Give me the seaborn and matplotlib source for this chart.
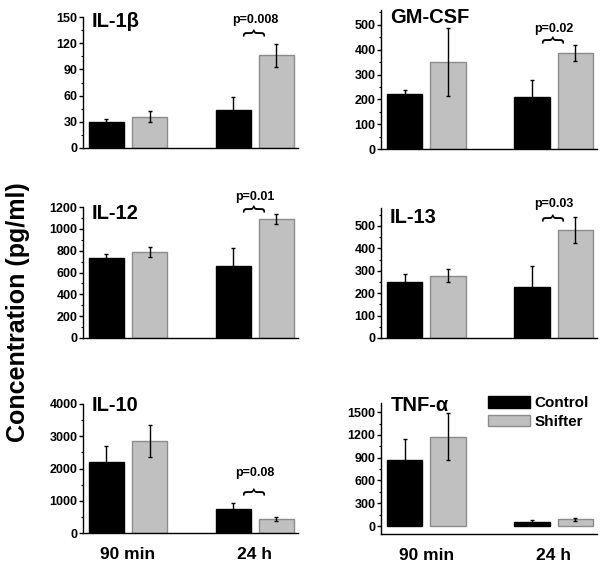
import matplotlib
matplotlib.use("Agg")
import matplotlib.pyplot as plt
from matplotlib.patches import Patch
from matplotlib.ticker import MultipleLocator
import pandas as pd
import seaborn as sns

# values (pg/ml)
cytokines = ["IL-1β", "GM-CSF", "IL-12", "IL-13", "IL-10", "TNF-α"]
times = ["90 min", "24 h"]
groups = ["Control", "Shifter"]

control_90 = [30, 220, 729, 251, 2216, 875]
shifter_90 = [36, 351, 791, 278, 2845, 1176]
control_24 = [43, 210, 655, 226, 732, 57]
shifter_24 = [106, 386, 1089, 481, 433, 87]

control_90_err = [3, 17, 37, 33, 485, 266]
shifter_90_err = [6, 136, 47, 29, 500, 310]
control_24_err = [15, 68, 167, 96, 185, 22]
shifter_24_err = [13, 31, 49, 58, 70, 22]

p_labels = ["p=0.008", "p=0.02", "p=0.01", "p=0.03", "p=0.08", None]

# layout / axis settings per panel
panel_px = [(83, 17, 298, 148), (381, 10, 597, 149),
            (83, 207, 298, 338), (381, 208, 597, 338),
            (83, 404, 298, 533), (381, 403, 597, 534)]
ylims = [(0, 150), (0, 560), (0, 1200), (0, 580), (0, 4000), (-105, 1620)]
ysteps = [30, 100, 200, 100, 1000, 300]
ytop = [150, 500, 1200, 500, 4000, 1500]
title_px = [(92, 27), (390, 23), (92, 219), (390, 223), (92, 411), (391, 411)]
p_text_y = [147, 484, 1290, 598, 1860, None]
brace_y = [133, 443, 1190, 540, 1300, None]

W, H = 604, 571
sns.set_style("ticks")
plt.rcParams["font.family"] = ["Liberation Sans", "DejaVu Sans"]
plt.rcParams["font.weight"] = "bold"
plt.rcParams["text.color"] = "black"
plt.rcParams["xtick.color"] = "black"
plt.rcParams["ytick.color"] = "black"
plt.rcParams["axes.labelcolor"] = "black"

colors = {"Control": "black", "Shifter": "#c0c0c0"}
edges = {"Control": "black", "Shifter": "#8c8c8c"}

fig = plt.figure(figsize=(W / 100, H / 100), dpi=100)

for i, name in enumerate(cytokines):
    l, t, r, b = panel_px[i]
    ax = fig.add_axes([l / W, 1 - b / H, (r - l) / W, (b - t) / H])

    df = pd.DataFrame({
        "time": times * 2,
        "group": ["Control", "Control", "Shifter", "Shifter"],
        "value": [control_90[i], control_24[i], shifter_90[i], shifter_24[i]],
        "err": [control_90_err[i], control_24_err[i], shifter_90_err[i], shifter_24_err[i]],
    })

    sns.barplot(data=df, x="time", y="value", hue="group", hue_order=groups,
                order=times, palette=colors, width=0.68, gap=0.18,
                legend=False, ax=ax, linewidth=1)

    for cont, g in zip(ax.containers, groups):
        sub = df[df["group"] == g].set_index("time").loc[times]
        xs = []
        for bar in cont:
            bar.set_edgecolor(edges[g])
            xs.append(bar.get_x() + bar.get_width() / 2)
        ax.errorbar(xs, sub["value"], yerr=sub["err"], fmt="none",
                    ecolor="black", elinewidth=1, capsize=1.5, capthick=1, zorder=5)

    ax.set_xlim(-0.355, 1.34)
    ax.set_ylim(*ylims[i])
    ax.set_yticks(range(0, ytop[i] + 1, ysteps[i]))
    ax.yaxis.set_minor_locator(MultipleLocator(ysteps[i] / 2))
    ax.tick_params(axis="y", which="major", length=3, width=1, pad=1,
                   labelsize=9, direction="out", colors="black")
    ax.tick_params(axis="y", which="minor", length=1.5, width=0.8, colors="black")
    ax.tick_params(axis="x", length=0, pad=10, labelsize=12.5, colors="black")
    for lab in ax.get_yticklabels():
        lab.set_fontweight("bold")
    ax.set_xlabel("")
    ax.set_ylabel("")
    if i < 4:
        ax.tick_params(axis="x", labelbottom=False)
    else:
        for lab in ax.get_xticklabels():
            lab.set_fontweight("bold")
    for s in ["left", "bottom"]:
        ax.spines[s].set_linewidth(1)
        ax.spines[s].set_color("black")
    sns.despine(ax=ax)

    tx, ty = title_px[i]
    fig.text(tx / W, 1 - ty / H, name, fontsize=14.5, fontweight="bold",
             va="baseline", ha="left", color="black")

    if p_labels[i]:
        ax.text(1.0, p_text_y[i], p_labels[i], ha="center", va="center",
                fontsize=9, fontweight="bold", clip_on=False)
        ax.text(1.0, brace_y[i], "}", rotation=90, ha="center", va="center",
                fontsize=17, fontweight="normal", clip_on=False)

fig.text(18 / W, 1 - 312 / H, "Concentration (pg/ml)", rotation=90,
         fontsize=18, fontweight="bold", ha="center", va="center")

handles = [Patch(facecolor=colors[g], edgecolor=edges[g], linewidth=1) for g in groups]
fig.legend(handles, groups, loc="upper left", bbox_to_anchor=(488 / W, 1 - 396 / H),
           frameon=False, handlelength=2.75, handleheight=0.8, handletextpad=0.3,
           labelspacing=0.3, borderpad=0, borderaxespad=0,
           prop={"size": 11, "weight": "bold"})

fig.savefig("out.png", dpi=100)
